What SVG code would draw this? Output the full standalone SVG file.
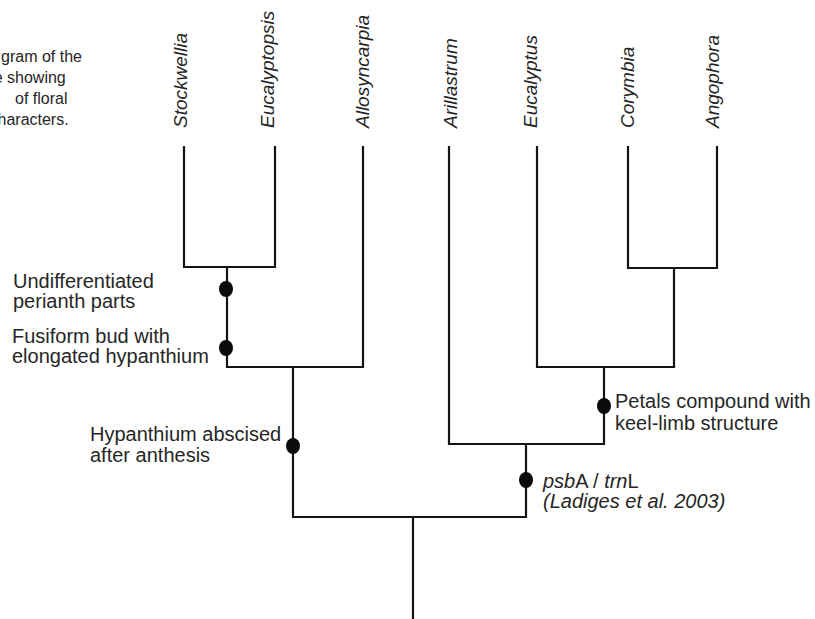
<svg xmlns="http://www.w3.org/2000/svg" width="815" height="619" viewBox="0 0 815 619">
<style>
.t{font-family:"Liberation Sans",Arial,sans-serif;font-size:19px;fill:#262626}
.a{font-family:"Liberation Sans",Arial,sans-serif;font-size:20px;fill:#262626}
.i{font-style:italic}
.c{font-family:"Liberation Sans",Arial,sans-serif;font-size:16px;fill:#262626}
.ln{fill:none;stroke:#141414;stroke-width:2.2;stroke-linejoin:miter;stroke-linecap:square}
.dot{fill:#0a0a0a}
</style>
<rect width="815" height="619" fill="#ffffff"/>
<g id="caption">
<text class="c" x="1" y="62">gram of the</text>
<text class="c" x="-6.3" y="83">e showing</text>
<text class="c" x="15" y="104">of floral</text>
<text class="c" x="-2.5" y="125">haracters.</text>
</g>
<g id="taxa">
<g id="stockwellia"><text class="t i" transform="translate(187,128) rotate(-90)">Stockwellia</text></g>
<g id="eucalyptopsis"><text class="t i" transform="translate(274,128) rotate(-90)">Eucalyptopsis</text></g>
<g id="allosyncarpia"><text class="t i" transform="translate(369,128) rotate(-90)">Allosyncarpia</text></g>
<g id="arillastrum"><text class="t i" transform="translate(457,128) rotate(-90)">Arillastrum</text></g>
<g id="eucalyptus"><text class="t i" transform="translate(537,128) rotate(-90)">Eucalyptus</text></g>
<g id="corymbia"><text class="t i" transform="translate(634,128) rotate(-90)">Corymbia</text></g>
<g id="angophora"><text class="t i" transform="translate(719,128) rotate(-90)">Angophora</text></g>
</g>
<g id="connectors">
<path class="ln" d="M184 147 V267 H275 V147"/>
<path class="ln" d="M227 267 V367 H363 V147"/>
<path class="ln" d="M293 367 V517 H526 V444"/>
<path class="ln" d="M449 147 V444 H604 V367"/>
<path class="ln" d="M537 147 V367 H674 V268"/>
<path class="ln" d="M628 147 V268 H717 V147"/>
<path class="ln" d="M413 517 V625"/>
</g>
<g id="char-undiff">
<ellipse class="dot" cx="226" cy="289" rx="7" ry="8"/>
<text class="a" x="13" y="288">Undifferentiated</text>
<text class="a" x="13" y="308">perianth parts</text>
</g>
<g id="char-fusiform">
<ellipse class="dot" cx="226" cy="348" rx="7" ry="8"/>
<text class="a" x="12" y="343">Fusiform bud with</text>
<text class="a" x="12" y="363">elongated hypanthium</text>
</g>
<g id="char-abscised">
<ellipse class="dot" cx="293" cy="446" rx="7" ry="8"/>
<text class="a" x="90" y="441">Hypanthium abscised</text>
<text class="a" x="90" y="462">after anthesis</text>
</g>
<g id="char-petals">
<ellipse class="dot" cx="604" cy="406" rx="7" ry="8"/>
<text class="a" x="615" y="408">Petals compound with</text>
<text class="a" x="615" y="430">keel-limb structure</text>
</g>
<g id="char-psba">
<ellipse class="dot" cx="526" cy="480" rx="7" ry="8"/>
<text class="a" x="543" y="488"><tspan class="i">psb</tspan>A / <tspan class="i">trn</tspan>L</text>
<text class="a i" x="543" y="508">(Ladiges et al. 2003)</text>
</g>
</svg>
